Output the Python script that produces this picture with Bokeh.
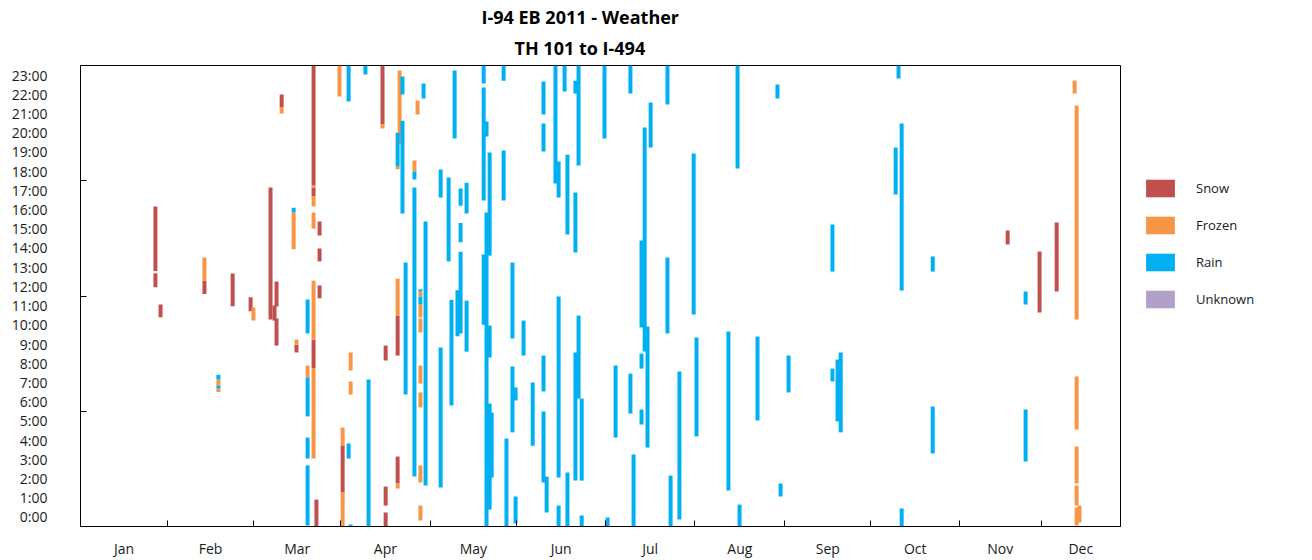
from bokeh.plotting import figure
from bokeh.models import Range1d, FixedTicker, Legend, LegendItem, ColumnDataSource, Title
from bokeh.layouts import row
from bokeh.embed import file_html
from bokeh.resources import INLINE

# ---------------- data ----------------
title_lines = ["I-94 EB 2011  -  Weather", "TH 101 to I-494"]
months = ["Jan", "Feb", "Mar", "Apr", "May", "Jun", "Jul", "Aug", "Sep", "Oct", "Nov", "Dec"]
month_edges = [30.5, 60.8, 91.3, 122.7, 153.1, 184.3, 215.6, 247.2, 277.4, 308.5, 337.1]
year_end = 365
hour_labels = [f"{h}:00" for h in range(24)]
hour_marks = [6, 12, 18]

categories = ["Snow", "Frozen", "Rain", "Unknown"]
colors = ["#C0504D", "#F79646", "#00B0F0", "#B1A0C7"]

# (day, start hour, end hour)
snow = [
    (26.3, 13.3, 16.66), (26.3, 12.46, 13.19), (28.1, 10.9, 11.56), (43.5, 12.11, 12.8),
    (53.4, 11.47, 13.17), (59.7, 11.21, 11.94), (66.7, 10.78, 17.65), (68.8, 11.45, 12.75),
    (68.1, 10.72, 11.5), (68.8, 9.42, 10.83), (70.6, 21.81, 22.49), (75.8, 9.06, 9.47),
    (81.8, 17.75, 24.0), (81.8, 17.18, 17.65), (81.8, 8.22, 9.73), (82.8, 0.0, 1.4),
    (83.9, 15.15, 15.88), (83.9, 13.8, 14.47), (83.9, 11.88, 12.55), (92.0, 1.77, 4.22),
    (106.0, 20.93, 24.0), (107.1, 8.64, 9.42), (107.1, 1.09, 2.08), (107.1, 0.0, 0.73),
    (111.3, 8.9, 10.98), (111.3, 2.24, 3.64), (325.4, 14.68, 15.41), (336.6, 11.14, 14.32),
    (342.6, 12.23, 15.82),
]
frozen = [
    (43.5, 12.8, 14.0), (48.4, 7.34, 7.65), (48.4, 7.0, 7.18), (60.7, 10.72, 11.4),
    (70.6, 21.5, 21.81), (74.8, 14.44, 16.35), (75.8, 9.47, 9.73), (79.7, 7.76, 8.38),
    (81.8, 17.65, 17.75), (81.8, 16.66, 17.18), (81.8, 15.5, 16.35), (81.8, 9.73, 12.8),
    (81.8, 3.54, 8.22), (90.9, 22.38, 24.0), (92.0, 4.22, 5.15), (92.0, 0.0, 1.77),
    (94.8, 8.12, 9.06), (94.8, 6.87, 7.55), (106.0, 20.72, 20.93), (111.3, 18.6, 18.74),
    (111.3, 10.98, 12.9), (111.3, 1.98, 2.24), (112.0, 19.94, 23.74), (117.2, 18.48, 19.05),
    (118.3, 21.45, 22.18), (119.3, 11.97, 12.23), (119.3, 10.88, 11.56), (119.3, 10.1, 10.83),
    (119.3, 7.44, 8.38), (119.3, 6.2, 6.98), (119.3, 2.29, 3.18), (119.3, 0.31, 1.09),
    (348.9, 22.54, 23.22), (349.6, 10.78, 21.92), (349.6, 5.05, 7.81), (349.6, 2.24, 4.16),
    (349.6, 1.09, 2.13), (349.6, 0.05, 0.99), (350.6, 0.21, 1.09),
]
rain = [
    (48.4, 7.65, 7.9), (48.4, 7.18, 7.34), (74.8, 16.35, 16.6), (79.7, 10.05, 11.82),
    (79.7, 5.73, 7.76), (79.7, 3.54, 4.63), (79.7, 0.05, 3.18), (94.1, 22.12, 24.0),
    (94.1, 3.54, 4.32), (94.8, 0.0, 0.1), (100.0, 23.53, 24.0), (101.1, 0.0, 7.65),
    (111.3, 18.74, 20.5), (113.0, 22.49, 23.43), (113.0, 16.29, 21.13), (114.1, 6.87, 13.74),
    (117.2, 18.06, 18.48), (117.2, 2.6, 17.65), (119.3, 11.56, 11.97), (119.3, 12.23, 12.35),
    (120.4, 22.28, 23.06), (121.1, 2.13, 15.88), (126.4, 17.13, 18.58), (126.4, 2.03, 9.32),
    (129.2, 13.8, 18.17), (130.2, 6.3, 11.8), (131.3, 20.2, 23.74), (132.3, 9.9, 12.3),
    (133.4, 16.7, 17.6), (133.4, 14.8, 15.8), (133.4, 10.05, 14.3), (135.5, 16.3, 17.9),
    (135.5, 9.1, 11.76), (141.5, 23.06, 24.0), (141.5, 16.97, 22.85), (141.5, 10.5, 14.16),
    (142.5, 20.3, 21.08), (142.5, 0.0, 16.35), (143.6, 14.1, 19.47), (143.6, 8.8, 10.46),
    (143.6, 0.88, 6.4), (144.3, 2.55, 5.93), (148.5, 23.2, 24.0), (148.5, 16.97, 19.57),
    (149.5, 0.0, 4.58), (151.6, 9.79, 13.74), (151.6, 4.9, 8.33), (152.7, 6.56, 7.24),
    (152.7, 0.16, 1.56), (155.5, 8.9, 10.72), (158.7, 4.2, 7.5), (162.5, 21.45, 23.17),
    (162.5, 19.52, 20.98), (162.5, 7.03, 8.9), (162.5, 2.29, 5.99), (163.6, 0.73, 2.6),
    (166.7, 17.86, 24.0), (167.8, 17.13, 19.0), (167.8, 2.55, 11.97), (167.8, 0.0, 1.09),
    (169.9, 22.64, 24.0), (170.9, 15.2, 19.36), (170.9, 0.0, 2.81), (173.7, 22.54, 23.2),
    (173.7, 14.26, 17.39), (173.7, 2.39, 9.06), (174.8, 18.79, 24.0), (174.8, 6.66, 10.98),
    (175.9, 2.39, 6.66), (175.9, 0.0, 0.57), (183.9, 20.2, 24.0), (185.0, 0.0, 0.47),
    (187.8, 4.63, 8.38), (193.0, 22.54, 24.0), (193.0, 5.88, 7.96), (194.1, 0.0, 3.75),
    (196.9, 10.36, 14.89), (196.9, 8.22, 9.0), (196.9, 5.31, 6.09), (198.0, 9.11, 20.77),
    (199.0, 4.11, 10.41), (200.1, 19.73, 22.07), (206.0, 21.97, 24.0), (206.0, 10.05, 14.0),
    (207.1, 0.0, 2.65), (210.2, 0.36, 8.07), (215.2, 11.04, 19.42), (216.2, 4.69, 9.84),
    (227.4, 1.87, 10.15), (230.6, 18.64, 24.0), (231.3, 0.0, 1.14), (237.6, 5.52, 9.89),
    (244.6, 22.28, 23.01), (245.7, 1.56, 2.24), (248.5, 6.98, 8.9), (263.9, 13.27, 15.72),
    (263.9, 7.55, 8.22), (265.7, 5.47, 8.69), (266.8, 4.9, 9.06), (286.1, 17.28, 19.73),
    (287.1, 23.32, 24.0), (288.2, 12.29, 20.98), (288.2, 0.0, 0.94), (299.1, 13.27, 14.06),
    (299.1, 3.8, 6.25), (331.7, 11.56, 12.23), (331.7, 3.38, 6.09),
]
unknown = []
series = [snow, frozen, rain, unknown]

# ---------------- main chart ----------------
FONT = "Open Sans"
p = figure(frame_width=1040, frame_height=461,
           x_range=Range1d(0, year_end), y_range=Range1d(0, 24),
           output_backend="svg", toolbar_location=None,
           min_border_left=80, min_border_right=2, min_border_top=65, min_border_bottom=34)

p.title.text = title_lines[0]
p.title.align = "left"
p.title.offset = 401
p.title.standoff = 0
p.title.text_font = FONT
p.title.text_font_size = "18px"
p.title.text_font_style = "bold"
p.title.text_color = "black"
sub = Title(text=title_lines[1], align="left", offset=434, standoff=11,
            text_font=FONT, text_font_size="18px", text_font_style="bold",
            text_color="black")
p.add_layout(sub, "above")

p.xgrid.visible = False
p.ygrid.visible = False
p.outline_line_color = "black"
p.outline_line_alpha = 1
p.outline_line_width = 1
p.background_fill_color = "white"
p.border_fill_color = "white"

# x axis: month names centred in each month, ticks at month boundaries
bounds = [0] + month_edges + [year_end]
centers = [(bounds[i] + bounds[i + 1]) / 2 for i in range(len(months))]
p.xaxis.ticker = FixedTicker(ticks=centers, minor_ticks=month_edges)
p.xaxis.major_label_overrides = {c: m for c, m in zip(centers, months)}
p.xaxis.major_label_standoff = 12

# y axis: hour labels centred in each hour slot, marks every six hours
hour_pos = [h + 0.5 for h in range(24)]
p.yaxis.ticker = FixedTicker(ticks=hour_pos, minor_ticks=hour_marks)
p.yaxis.major_label_overrides = {y: s for y, s in zip(hour_pos, hour_labels)}
p.yaxis.major_label_standoff = 33

for ax in (p.xaxis, p.yaxis):
    ax.major_tick_line_color = None
    ax.major_tick_in = 0
    ax.major_tick_out = 0
    ax.minor_tick_line_color = "black"
    ax.minor_tick_in = 6
    ax.minor_tick_out = 0
    ax.axis_line_color = "black"
    ax.major_label_text_font = FONT
    ax.major_label_text_font_size = "14px"
    ax.major_label_text_color = "#1a1a1a"

for name, color, data in zip(categories, colors, series):
    src = ColumnDataSource(dict(
        day=[d[0] for d in data], start=[d[1] for d in data], end=[d[2] for d in data]))
    p.vbar(x="day", bottom="start", top="end", width=1.4, source=src,
           fill_color=color, line_color=None)

# ---------------- legend panel (frame aligned with the chart frame) ----------------
lg = figure(width=190, height=560, x_range=Range1d(0, 1), y_range=Range1d(0, 1),
            x_axis_type=None, y_axis_type=None, output_backend="svg",
            toolbar_location=None, title=None,
            min_border_left=0, min_border_top=65, min_border_right=0, min_border_bottom=34)
lg.outline_line_color = None
lg.xgrid.visible = False
lg.ygrid.visible = False
items = []
for name, color in zip(categories, colors):
    # key-only renderer: a single empty (NaN) entry so the legend draws the swatch
    r = lg.vbar(x=[float("nan")], bottom=[float("nan")], top=[float("nan")], width=1,
                fill_color=color, line_color=None)
    items.append(LegendItem(label=name, renderers=[r]))
legend = Legend(items=items, location=(20, 216),
                glyph_width=36, glyph_height=22, label_height=22,
                spacing=15, label_standoff=18, padding=0, margin=0,
                border_line_alpha=0, background_fill_alpha=0,
                label_text_font=FONT, label_text_font_size="13px",
                label_text_color="#1a1a1a")
lg.add_layout(legend)

layout = row(p, lg, spacing=0)
open("out.html", "w").write(file_html(layout, INLINE))
